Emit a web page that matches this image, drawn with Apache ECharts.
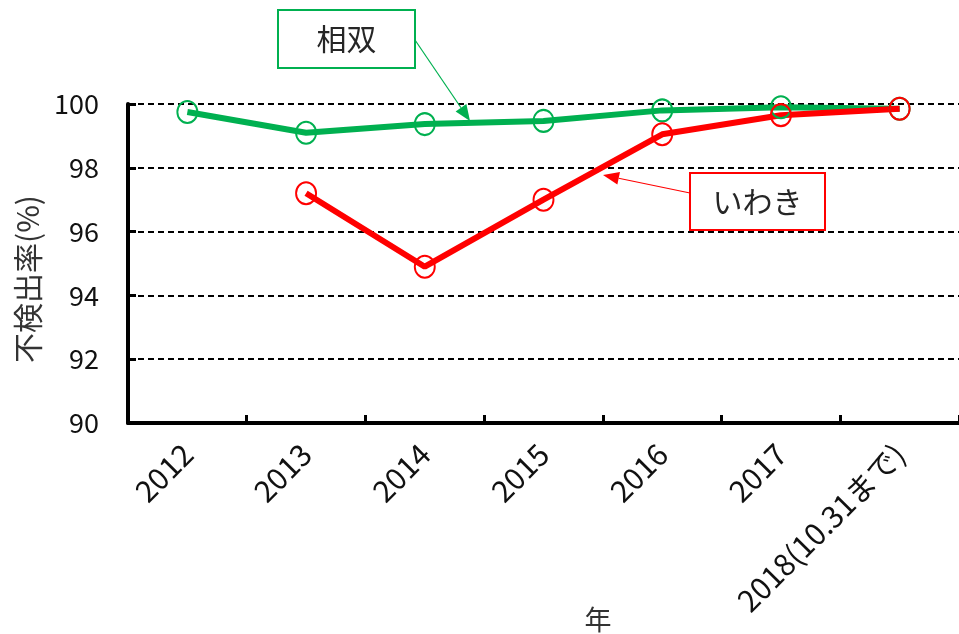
<!DOCTYPE html>
<html>
<head>
<meta charset="utf-8">
<script src="https://cdn.jsdelivr.net/npm/echarts@6/dist/echarts.min.js"></script>
<style>
  html, body { margin: 0; padding: 0; background: #fff; }
  #chart { width: 959px; height: 634px; }
</style>
</head>
<body>
<div id="chart"></div>
<script>
// Detection-free rate by year for two areas
const years = ['2012', '2013', '2014', '2015', '2016', '2017', '2018(10.31まで)'];
const soso = [99.75, 99.1, 99.37, 99.47, 99.8, 99.9, 99.85];   // 相双
const iwaki = [null, 97.2, 94.9, 97.0, 99.05, 99.65, 99.85];   // いわき
const yTicks = [90, 92, 94, 96, 98, 100];

const GREEN = '#00b050';
const RED = '#ff0000';
const FONT = '"Noto Sans CJK JP", sans-serif';

const chart = echarts.init(document.getElementById('chart'));

function lineSeries(name, data, color) {
  return {
    name: name,
    type: 'line',
    data: data,
    symbol: 'circle',
    symbolSize: [20, 22],
    showAllSymbol: true,
    connectNulls: false,
    lineStyle: { color: color, width: 6 },
    itemStyle: { color: 'rgba(0,0,0,0)', borderColor: color, borderWidth: 2 },
    emphasis: { disabled: true },
    animation: false,
    z: 3
  };
}

// Annotation callout with an arrow pointing at the series
function callout(label, color, box, from, to) {
  const dx = to[0] - from[0], dy = to[1] - from[1];
  const len = Math.sqrt(dx * dx + dy * dy);
  const ux = dx / len, uy = dy / len;
  const head = 16, half = 6.5;
  const bx = to[0] - ux * head, by = to[1] - uy * head;
  return [
    {
      type: 'rect',
      shape: { x: box[0], y: box[1], width: box[2], height: box[3] },
      style: { fill: '#fff', stroke: color, lineWidth: 2 },
      z: 10
    },
    {
      type: 'text',
      x: box[0] + box[2] / 2, y: box[1] + box[3] / 2,
      style: { text: label, font: '30px ' + FONT, fill: '#262626', align: 'center', verticalAlign: 'middle' },
      z: 11
    },
    {
      type: 'line',
      shape: { x1: from[0], y1: from[1], x2: bx, y2: by },
      style: { stroke: color, lineWidth: 1.2 },
      z: 10
    },
    {
      type: 'polygon',
      shape: { points: [to, [bx - uy * half, by + ux * half], [bx + uy * half, by - ux * half]] },
      style: { fill: color },
      z: 10
    }
  ];
}

chart.setOption({
  backgroundColor: '#fff',
  animation: false,
  grid: { left: 128, right: -6, top: 104, bottom: 211, containLabel: false },
  xAxis: {
    type: 'category',
    data: years,
    boundaryGap: true,
    axisLine: { lineStyle: { color: '#000', width: 4 } },
    axisTick: { show: true, inside: true, length: 8, lineStyle: { color: '#000', width: 3 } },
    axisLabel: { rotate: 45, margin: 26, fontSize: 30, color: '#111', fontFamily: FONT },
    splitLine: { show: false }
  },
  yAxis: {
    type: 'value',
    min: 90, max: 100, interval: 2,
    axisLine: { show: true, lineStyle: { color: '#000', width: 4 } },
    axisTick: { show: true, inside: true, length: 8, lineStyle: { color: '#000', width: 3 } },
    axisLabel: {
      margin: 29, fontSize: 27, color: '#111', fontFamily: FONT,
      formatter: v => (yTicks.includes(v) ? String(v) : '')
    },
    splitLine: { show: true, lineStyle: { color: '#000', width: 2, type: [6, 4] } }
  },
  series: [
    lineSeries('相双', soso, GREEN),
    lineSeries('いわき', iwaki, RED)
  ],
  graphic: [
    ...callout('相双', GREEN, [278, 10, 137, 58], [415, 40], [470, 121]),
    ...callout('いわき', RED, [690, 173, 135, 57], [690, 193], [603, 175]),
    {
      type: 'text', x: 28, y: 279, rotation: Math.PI / 2,
      style: { text: '不検出率(%)', font: '30px ' + FONT, fill: '#333', align: 'center', verticalAlign: 'middle' }
    },
    {
      type: 'text', x: 598, y: 620,
      style: { text: '年', font: '27px ' + FONT, fill: '#333', align: 'center', verticalAlign: 'middle' }
    }
  ]
});
</script>
</body>
</html>
